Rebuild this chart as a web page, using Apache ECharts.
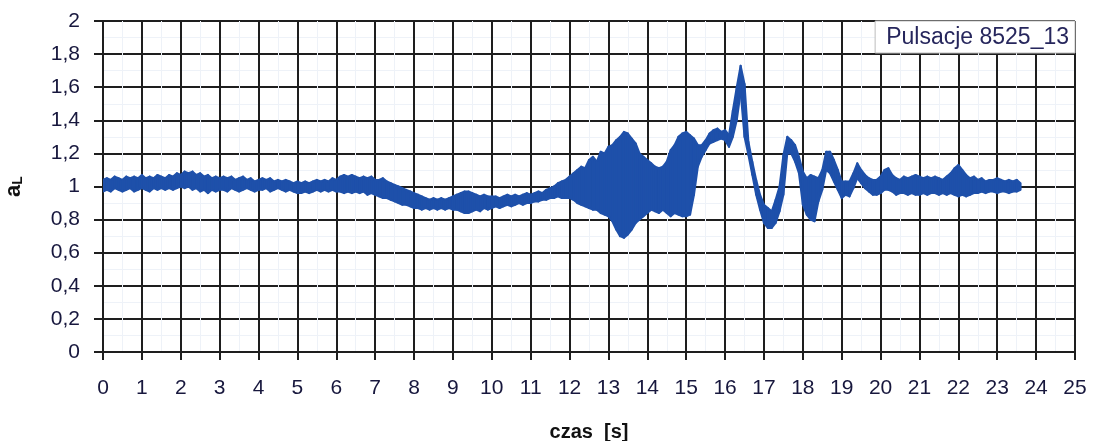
<!DOCTYPE html>
<html>
<head>
<meta charset="utf-8">
<script src="https://cdn.jsdelivr.net/npm/echarts@6/dist/echarts.min.js"></script>
<style>
html,body{margin:0;padding:0;background:#fff;}
#chart{width:1093px;height:441px;}
</style>
</head>
<body>
<div id="chart"></div>
<script>
// Time step of the envelope samples (s)
var timeStep = 0.1;
// Upper envelope of the a_L signal band, one value per 0.1 s from 0 to 23.6 s
var upperEnv = [
 1.04,1.05,1.04,1.06,1.05,1.04,1.06,1.05,1.06,1.05,1.07,1.05,1.06,1.05,1.07,1.06,1.05,1.07,1.06,1.08,1.07,
 1.09,1.08,1.09,1.07,1.08,1.06,1.07,1.05,1.06,1.05,
 1.06,1.05,1.06,1.04,1.05,1.06,1.04,1.05,1.03,1.04,
 1.05,1.04,1.05,1.03,1.04,1.03,1.04,1.03,1.02,1.03,
 1.02,1.03,1.02,1.03,1.04,1.03,1.04,1.03,1.05,1.04,
 1.06,1.07,1.06,1.07,1.06,1.05,1.06,1.05,1.06,1.04,
 1.04,1.05,1.03,1.02,1.01,1.00,0.99,0.98,0.97,0.96,
 0.95,0.94,0.93,0.92,0.93,0.92,0.93,0.92,0.93,0.94,
 0.95,0.96,0.97,0.97,0.96,0.95,0.94,0.95,0.94,0.94,
 0.94,0.93,0.94,0.95,0.94,0.95,0.94,0.95,0.96,0.95,
 0.96,0.97,0.96,0.98,0.99,1.00,1.02,1.03,1.04,1.06,
 1.08,1.10,1.12,1.11,1.16,1.18,1.15,1.21,1.20,1.24,
 1.25,1.28,1.30,1.33,1.32,1.29,1.26,1.20,1.18,1.16,
 1.14,1.12,1.11,1.12,1.15,1.22,1.25,1.30,1.32,1.33,
 1.31,1.29,1.25,1.25,1.28,1.32,1.34,1.35,1.33,1.34,
 1.31,1.46,1.60,1.73,1.62,1.27,1.15,1.04,0.95,0.89,
 0.87,0.85,0.92,1.00,1.19,1.30,1.28,1.25,1.18,1.09,
 1.05,1.07,1.06,1.05,1.10,1.21,1.21,1.16,1.10,1.03,
 1.03,1.03,1.08,1.14,1.10,1.07,1.05,1.04,1.04,1.06,
 1.10,1.11,1.07,1.05,1.04,1.06,1.05,1.06,1.07,1.06,
 1.05,1.06,1.05,1.06,1.05,1.04,1.06,1.08,1.11,1.13,
 1.10,1.07,1.05,1.06,1.04,1.05,1.03,1.04,1.04,1.05,
 1.04,1.03,1.04,1.03,1.04,1.02
];
// Lower envelope of the a_L signal band, same time base
var lowerEnv = [
 0.97,0.98,0.97,0.99,0.98,0.97,0.98,0.99,0.97,0.98,0.99,0.98,0.97,0.99,0.98,0.99,0.98,0.99,0.98,0.99,1.00,
 0.99,1.00,0.98,0.99,0.97,0.98,0.96,0.98,0.97,0.98,
 0.98,0.97,0.99,0.98,0.97,0.98,0.99,0.98,0.97,0.98,
 0.98,0.99,0.97,0.98,0.99,0.98,0.97,0.98,0.97,0.96,
 0.96,0.97,0.96,0.97,0.98,0.97,0.98,0.97,0.98,0.97,
 0.97,0.96,0.97,0.96,0.97,0.96,0.97,0.95,0.96,0.95,
 0.94,0.93,0.93,0.92,0.91,0.90,0.89,0.89,0.88,0.87,
 0.87,0.86,0.87,0.86,0.87,0.86,0.87,0.86,0.87,0.86,
 0.86,0.85,0.84,0.84,0.85,0.86,0.85,0.87,0.86,0.87,
 0.88,0.87,0.88,0.89,0.88,0.89,0.90,0.89,0.90,0.90,
 0.91,0.91,0.92,0.92,0.93,0.93,0.94,0.93,0.93,0.93,
 0.92,0.90,0.89,0.88,0.87,0.86,0.86,0.84,0.83,0.82,
 0.79,0.74,0.70,0.69,0.71,0.74,0.78,0.80,0.82,0.84,
 0.86,0.85,0.84,0.86,0.84,0.82,0.84,0.83,0.82,0.82,
 0.83,0.95,1.12,1.18,1.22,1.26,1.27,1.28,1.29,1.28,
 1.24,1.30,1.40,1.57,1.30,1.19,1.07,0.95,0.86,0.78,
 0.75,0.75,0.78,0.85,0.95,1.20,1.20,1.15,1.08,0.89,
 0.83,0.80,0.79,0.91,0.98,1.10,1.08,1.03,0.98,0.93,
 0.95,0.94,0.99,1.05,1.02,0.99,0.97,0.95,0.95,0.96,
 0.98,0.98,0.97,0.95,0.96,0.96,0.95,0.96,0.95,0.95,
 0.96,0.95,0.96,0.96,0.95,0.96,0.95,0.96,0.95,0.94,
 0.95,0.94,0.95,0.96,0.96,0.97,0.96,0.97,0.97,0.96,
 0.97,0.97,0.96,0.97,0.97,0.98
];
var seriesName = 'Pulsacje 8525_13';
var xTicks = {min: 0, max: 25, interval: 1};
var yTicks = {min: 0, max: 2, interval: 0.2};

// Each band segment joins sample i to sample i+1: [t0, low0, up0, t1, low1, up1]
var n = Math.min(upperEnv.length, lowerEnv.length);
var segments = [];
for (var i = 0; i < n - 1; i++) {
  segments.push([
    +(i * timeStep).toFixed(2), lowerEnv[i], upperEnv[i],
    +((i + 1) * timeStep).toFixed(2), lowerEnv[i + 1], upperEnv[i + 1]
  ]);
}

var FONT = 'Liberation Sans, Arial, sans-serif';
var labelColor = '#17173d';
var gridColor = '#1e1e1e';
var blue = '#1e50aa';

function renderBand(params, api) {
  var a = api.coord([api.value(0), api.value(1)]);
  var b = api.coord([api.value(3), api.value(4)]);
  var c = api.coord([api.value(3), api.value(5)]);
  var d = api.coord([api.value(0), api.value(2)]);
  return {
    type: 'polygon',
    shape: {points: [a, b, c, d]},
    style: {fill: blue, stroke: blue, lineWidth: 2, lineJoin: 'round'}
  };
}

var chart = echarts.init(document.getElementById('chart'), null, {renderer: 'canvas'});
chart.setOption({
  animation: false,
  backgroundColor: '#ffffff',
  grid: {left: 103, right: 18, top: 21, bottom: 89, containLabel: false, outerBoundsMode: 'none'},
  legend: {
    show: true,
    data: [{name: seriesName, icon: 'none'}],
    right: 18, top: 21,
    itemWidth: 0, itemHeight: 0, itemGap: 0,
    padding: [5, 6, 4, 6],
    backgroundColor: '#ffffff',
    borderColor: '#bdbdbd', borderWidth: 1,
    textStyle: {fontFamily: FONT, fontSize: 23, color: '#26265c'},
    selectedMode: false
  },
  xAxis: {
    type: 'value',
    min: xTicks.min, max: xTicks.max, interval: xTicks.interval,
    name: 'czas  [s]',
    nameLocation: 'middle', nameGap: 70,
    nameTextStyle: {fontFamily: FONT, fontSize: 20, fontWeight: 'bold', color: '#111'},
    axisLine: {show: true, onZero: false, lineStyle: {color: gridColor, width: 2}},
    axisTick: {show: true, length: 8, lineStyle: {color: gridColor, width: 2}},
    axisLabel: {margin: 26, fontFamily: FONT, fontSize: 21, color: labelColor},
    splitLine: {show: true, lineStyle: {color: gridColor, width: 2}},
    minorTick: {show: false, splitNumber: 2},
    minorSplitLine: {show: true, lineStyle: {color: '#eef2f8', width: 1}}
  },
  yAxis: {
    type: 'value',
    min: yTicks.min, max: yTicks.max, interval: yTicks.interval,
    name: '{a|a}{s|L}',
    nameLocation: 'middle', nameGap: 78, nameRotate: 90,
    nameTextStyle: {
      rich: {
        a: {fontFamily: FONT, fontSize: 22, fontWeight: 'bold', color: '#111', verticalAlign: 'bottom'},
        s: {fontFamily: FONT, fontSize: 14, fontWeight: 'bold', color: '#111', verticalAlign: 'bottom', padding: [8, 0, 0, 0]}
      }
    },
    axisLine: {show: true, lineStyle: {color: gridColor, width: 2}},
    axisTick: {show: true, length: 9, lineStyle: {color: gridColor, width: 2}},
    axisLabel: {
      margin: 23, fontFamily: FONT, fontSize: 21, color: labelColor,
      formatter: function (v) { return String(+v.toFixed(1)).replace('.', ','); }
    },
    splitLine: {show: true, lineStyle: {color: gridColor, width: 2}},
    minorTick: {show: false, splitNumber: 2},
    minorSplitLine: {show: true, lineStyle: {color: '#eef2f8', width: 1}}
  },
  series: [{
    name: seriesName,
    type: 'custom',
    renderItem: renderBand,
    data: segments,
    encode: {x: [0, 3], y: [1, 2, 4, 5]},
    itemStyle: {color: blue},
    clip: true,
    z: 5
  }]
});
</script>
</body>
</html>
